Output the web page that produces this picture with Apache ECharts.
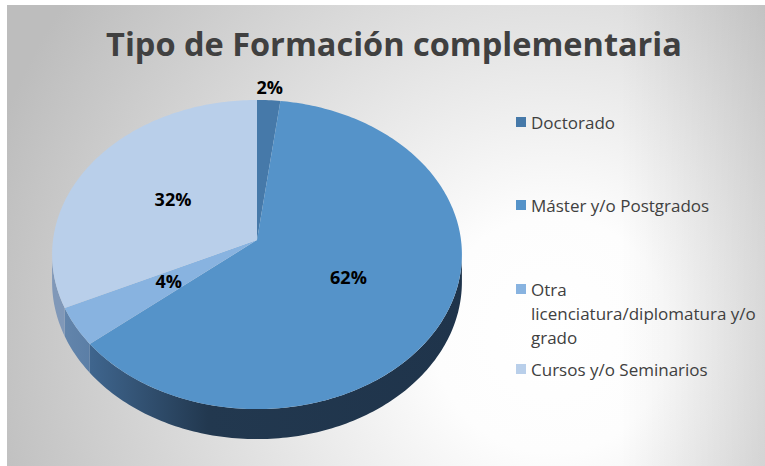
<!DOCTYPE html>
<html>
<head>
<meta charset="utf-8">
<style>
  html, body { margin: 0; padding: 0; background: #fff; }
  #chart { width: 765px; height: 466px; }
</style>
<script src="https://cdn.jsdelivr.net/npm/echarts@6/dist/echarts.min.js"></script>
</head>
<body>
<div id="chart"></div>
<script>
// data
const categories = ['Doctorado', 'Máster y/o Postgrados', 'Otra licenciatura/diplomatura y/o grado', 'Cursos y/o Seminarios'];
const values = [2, 62, 4, 32];
const topColors = ['#4679a9', '#5593c9', '#88b3e0', '#b9cfea'];

// 3d pie geometry (perspective ellipse)
const cx = 257, cy = 240, rx = 204, ry = 153.2, persp = 0.094, depth = 27.2;
const total = values.reduce((a, b) => a + b, 0);

function proj (deg, rho) {
  const t = deg * Math.PI / 180;
  const u = Math.sin(t), v = Math.cos(t);
  const s = 1 / (1 + persp * rho * v);
  return [cx + rx * rho * u * s, cy - ry * rho * v * s];
}
function arc (a, b) {
  const pts = [];
  const n = Math.max(2, Math.ceil((b - a) / 1));
  for (let k = 0; k <= n; k++) pts.push(proj(a + (b - a) * k / n, 1));
  return pts;
}
function sideFill (i) {
  const stops = [
    [[0, '#3f6690'], [1, '#3f6690']],
    [[0, '#4b729c'], [0.1, '#3e648c'], [0.38, '#22384f'], [1, '#1f344b']],
    [[0, '#6688ae'], [0.1, '#5a7da5'], [1, '#5a7da5']],
    [[0, '#8098b8'], [1, '#8098b8']]
  ][i];
  return {
    type: 'linear', global: true, x: cx - rx, y: 0, x2: cx + rx, y2: 0,
    colorStops: stops.map(s => ({ offset: s[0], color: s[1] }))
  };
}

function renderSlice (i, api) {
  let before = 0;
  for (let k = 0; k < i; k++) before += values[k];
  const a = before / total * 360;
  const b = (before + api.value(0)) / total * 360;
  const children = [];
  // visible front wall
  const va = Math.max(a, 95.4), vb = Math.min(b, 264.6);
  if (vb > va) {
    const top = arc(va, vb);
    const bottom = top.map((p, k) => {
      const deg = va + (vb - va) * k / (top.length - 1);
      const v = Math.cos(deg * Math.PI / 180);
      return [p[0], p[1] + depth / (1 + persp * v)];
    }).reverse();
    children.push({ type: 'polygon', shape: { points: top.concat(bottom) }, style: { fill: sideFill(i) } });
  }
  children.push({
    type: 'polygon',
    shape: { points: [proj(0, 0)].concat(arc(a, b)) },
    style: { fill: topColors[i] }
  });
  const pct = Math.round(api.value(0) / total * 100);
  const lp = proj((a + b) / 2, pct < 3 ? 1.1 : 0.5);
  children.push({
    type: 'text', x: lp[0], y: lp[1] - 1,
    style: {
      text: pct + '%', fill: '#000', align: 'center', verticalAlign: 'middle',
      font: 'bold 18px "Open Sans"'
    }
  });
  return { type: 'group', children };
}

const legendTops = [110, 193, 229, 357];
const chart = echarts.init(document.getElementById('chart'), null, { renderer: 'svg' });
chart.setOption({
  animation: false,
  title: {
    text: 'Tipo de Formación complementaria',
    left: 394,
    textAlign: 'center',
    top: 27,
    padding: 0,
    textStyle: { fontFamily: 'Open Sans', fontSize: 32.5, fontWeight: 'bold', color: '#404040' }
  },
  graphic: [
    {
      type: 'rect', left: 7, top: 5, z: -10, silent: true,
      shape: { width: 758, height: 461 },
      style: {
        fill: {
          type: 'radial', global: true, x: 545, y: 330, r: 590,
          colorStops: [{ offset: 0, color: '#ffffff' }, { offset: 0.2, color: '#fdfdfd' }, { offset: 1, color: '#bdbdbd' }]
        }
      }
    },
    {
      type: 'rect', left: 620, top: 5, z: -9, silent: true,
      shape: { width: 145, height: 461 },
      style: {
        fill: {
          type: 'linear', x: 0, y: 0, x2: 1, y2: 0,
          colorStops: [{ offset: 0, color: 'rgba(0,0,0,0)' }, { offset: 1, color: 'rgba(0,0,0,0.1)' }]
        }
      }
    }
  ],
  legend: categories.map((name, i) => ({
    data: [name],
    left: 516,
    top: legendTops[i],
    padding: 0,
    itemWidth: 10,
    itemHeight: 10,
    icon: 'rect',
    selectedMode: false,
    // blank lines on top keep the marker beside the first line of the wrapped entry
    formatter: i === 2 ? '\n\nOtra\nlicenciatura/diplomatura y/o\ngrado' : '{name}',
    textStyle: { fontFamily: 'Open Sans', fontSize: 17, color: '#404040', lineHeight: 24 }
  })),
  series: categories.map((name, i) => ({
    type: 'custom',
    name: name,
    coordinateSystem: 'none',
    color: topColors[i],
    data: [values[i]],
    renderItem: (params, api) => renderSlice(i, api)
  }))
});
</script>
</body>
</html>
